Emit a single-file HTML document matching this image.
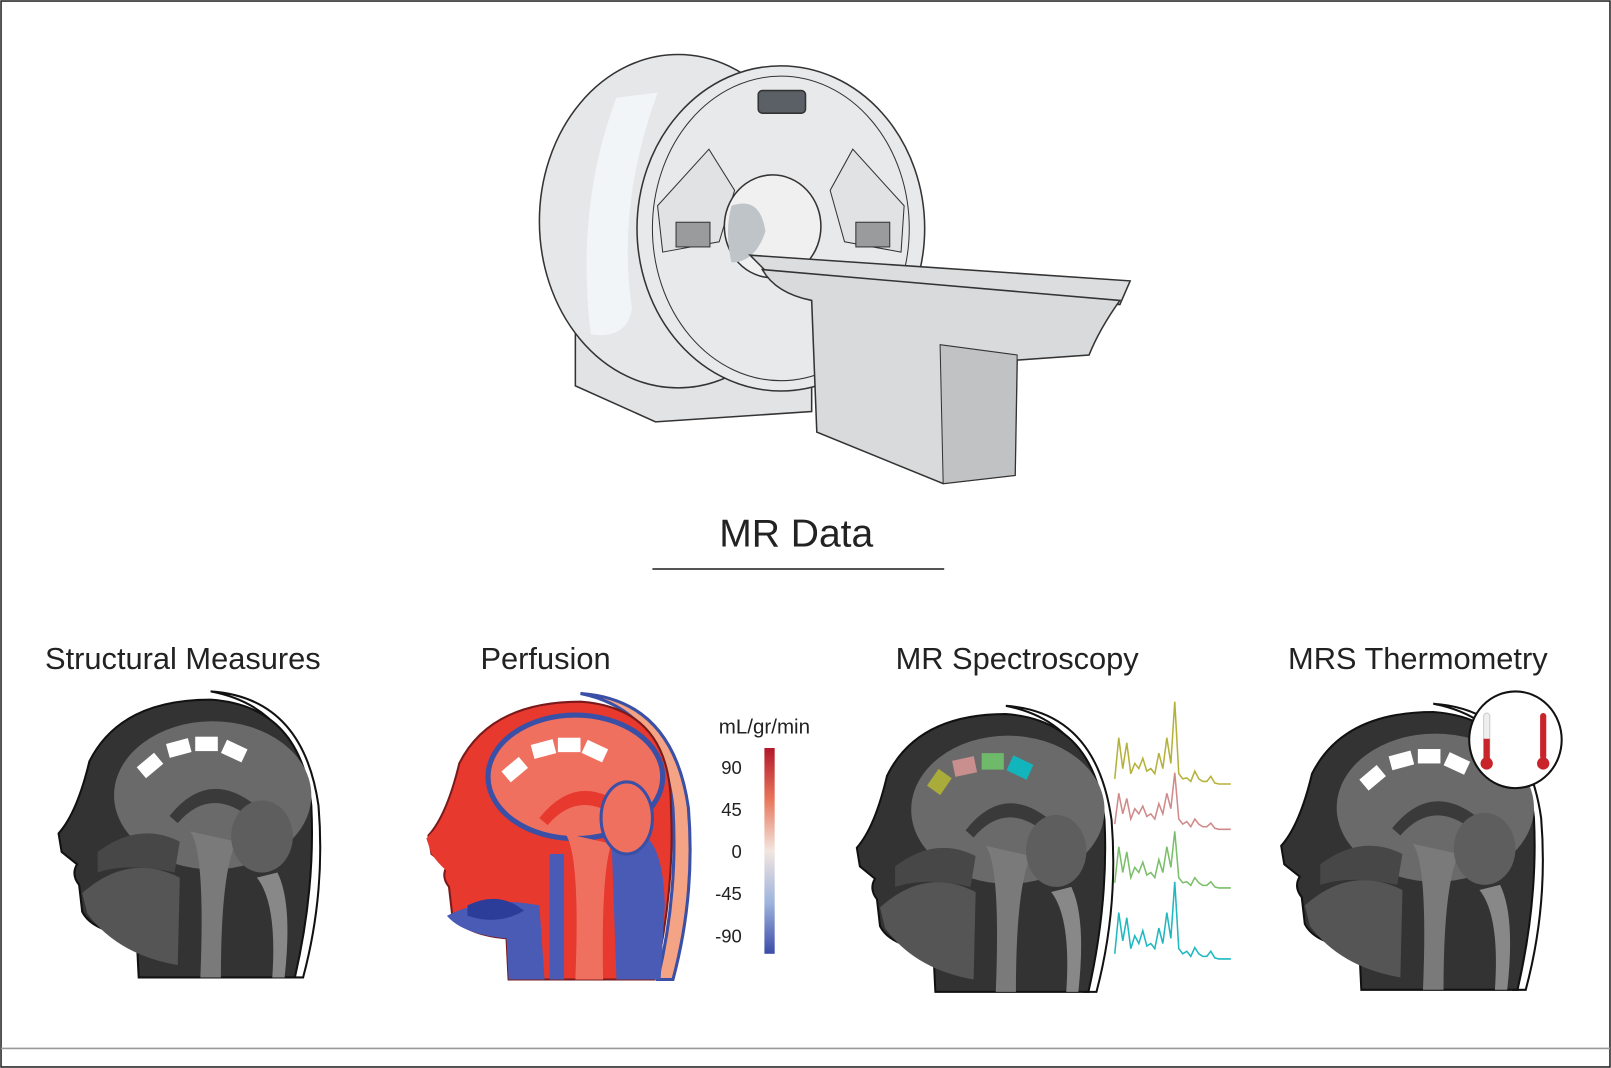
<!DOCTYPE html>
<html><head><meta charset="utf-8"><style>
html,body{margin:0;padding:0;background:#fff;width:1611px;height:1068px;overflow:hidden}
svg{display:block}
text{font-family:"Liberation Sans",sans-serif;fill:#222}
</style></head><body>
<svg id="fig" width="1611" height="1068" viewBox="0 0 1568 1038" preserveAspectRatio="none" xmlns="http://www.w3.org/2000/svg">
<defs>
<linearGradient id="cbar" x1="0" y1="0" x2="0" y2="1">
<stop offset="0" stop-color="#b2182b"/><stop offset="0.25" stop-color="#e8765b"/><stop offset="0.5" stop-color="#f2e6e0"/><stop offset="0.75" stop-color="#9fb4dd"/><stop offset="1" stop-color="#3b4ca8"/>
</linearGradient>
<g id="head">
<path d="M255,105 Q262,190 240,272 L228,272 Q248,190 243,105 Q235,10 150,-6 Q240,0 255,105Z" fill="#fff" stroke="#111" stroke-width="2"/>
<path d="M80,272 L78,232 Q35,228 25,208 L22,182 Q14,172 20,162 L5,150 L2,132 Q20,112 32,62 Q62,2 150,2 Q238,8 248,105 Q252,185 232,272 Z" fill="#333" stroke="#111" stroke-width="2"/>
<ellipse cx="152" cy="95" rx="96" ry="72" fill="#6a6a6a"/>
<path d="M110,115 Q150,65 200,110 L190,118 Q150,85 118,122Z" fill="#3a3a3a"/>
<path d="M130,130 Q145,150 140,272 L160,272 Q160,170 175,140Z" fill="#7a7a7a"/>
<ellipse cx="200" cy="135" rx="30" ry="35" fill="#5e5e5e"/>
<path d="M25,190 Q70,150 120,175 L118,260 Q60,250 30,210Z" fill="#555"/>
<path d="M40,150 Q80,120 120,140 L115,170 Q70,160 40,170Z" fill="#474747"/>
<path d="M195,175 Q215,200 210,272 L222,272 Q230,200 215,170Z" fill="#888"/>
</g>
</defs>
<rect x="1" y="1" width="1566" height="1036" fill="#fff" stroke="#222" stroke-width="1.5"/>
<line x1="1" y1="1019" x2="1567" y2="1019" stroke="#999" stroke-width="1.5"/>

<g stroke="#333" stroke-width="1.5">
<polygon points="560,300 560,375 638,410 790,400 790,320" fill="#e2e3e5"/>
<ellipse cx="660" cy="215" rx="135" ry="162" fill="#e6e7e9"/>
<path d="M600,95 Q560,200 575,325 Q610,330 615,300 Q600,200 640,90Z" fill="#f2f5f7" stroke="none"/>
<ellipse cx="760" cy="222" rx="140" ry="158" fill="#e8e9ea"/>
<ellipse cx="760" cy="222" rx="125" ry="148" fill="none" stroke-width="1"/>
<rect x="738" y="88" width="46" height="22" rx="4" fill="#5b6066"/>
<polygon points="640,200 690,145 715,185 700,235 645,245" fill="#e1e2e4" stroke-width="1"/>
<polygon points="880,200 830,145 808,185 822,235 877,245" fill="#e1e2e4" stroke-width="1"/>
<rect x="658" y="216" width="33" height="24" fill="#9a9b9d" stroke-width="1"/>
<rect x="833" y="216" width="33" height="24" fill="#9a9b9d" stroke-width="1"/>
<ellipse cx="752" cy="220" rx="47" ry="50" fill="#f0f0f0"/>
<path d="M712,200 Q740,190 745,225 Q735,255 712,255 Q705,225 712,200Z" fill="#bfc4c8" stroke="none"/>
<polygon points="730,248 1100,273 1090,296 750,268" fill="#dcdddf"/>
<path d="M742,262 L1090,292 Q1070,320 1060,345 L990,350 L988,462 L918,470 L795,420 L790,292 Q755,285 742,262Z" fill="#d8dadc"/>
<polygon points="915,335 990,345 988,462 918,470" fill="#c0c2c4" stroke-width="1"/>
</g>

<text x="775" y="531" font-size="38" text-anchor="middle">MR Data</text>
<line x1="635" y1="553" x2="919" y2="553" stroke="#555" stroke-width="2"/>

<text x="178" y="650" font-size="30" text-anchor="middle">Structural Measures</text>
<text x="531" y="650" font-size="30" text-anchor="middle">Perfusion</text>
<text x="990" y="650" font-size="30" text-anchor="middle">MR Spectroscopy</text>
<text x="1380" y="650" font-size="30" text-anchor="middle">MRS Thermometry</text>

<g transform="translate(55,678)">
<use href="#head"/>
<g fill="#fff"><rect x="84" y="55" width="14" height="22" transform="rotate(50 91 66)"/><rect x="108" y="42" width="22" height="14" transform="rotate(-15 119 49)"/><rect x="135" y="38" width="22" height="14"/><rect x="162" y="45" width="22" height="14" transform="rotate(25 173 52)"/></g>
</g>

<g transform="translate(415,680)">
<path d="M255,105 Q262,190 240,272 L225,272 Q245,190 240,105 Q230,10 150,-6 Q240,0 255,105Z" fill="#f4a384" stroke="#3a4fa6" stroke-width="3"/>
<path d="M80,272 L78,232 Q35,228 25,208 L22,182 Q14,172 20,162 L5,150 L2,132 Q20,112 32,62 Q62,2 150,2 Q238,8 238,105 Q242,185 222,272 Z" fill="#e8392f" stroke="#7a1a1a" stroke-width="2"/>
<ellipse cx="145" cy="75" rx="85" ry="60" fill="#f07060" stroke="#3a4fa6" stroke-width="5"/>
<path d="M110,115 Q150,65 200,110 L190,118 Q150,85 118,122Z" fill="#e8392f"/>
<path d="M20,210 Q60,190 110,200 L115,272 L80,272 L78,232 Q35,228 20,210Z" fill="#4a5bb5"/>
<path d="M40,200 Q70,185 95,205 Q70,220 40,210Z" fill="#2c3d99"/>
<rect x="120" y="150" width="14" height="122" fill="#4a5bb5"/>
<path d="M135,130 Q150,150 145,272 L172,272 Q170,170 180,140Z" fill="#f07060"/>
<path d="M180,130 Q230,110 232,200 L228,272 L185,272Z" fill="#4a5bb5"/>
<ellipse cx="195" cy="115" rx="25" ry="35" fill="#f07060" stroke="#3a4fa6" stroke-width="3"/>
<path d="M0,135 Q20,110 60,110 Q90,140 70,185 Q30,185 5,150Z" fill="#e8392f"/>
<g fill="#fff"><rect x="79" y="57" width="14" height="22" transform="rotate(50 86 68)"/><rect x="103" y="41" width="22" height="14" transform="rotate(-15 114 48)"/><rect x="128" y="37" width="22" height="14"/><rect x="153" y="43" width="22" height="14" transform="rotate(25 164 50)"/></g>
</g>

<g id="colorbar">
<text x="744" y="713" font-size="20" text-anchor="middle">mL/gr/min</text>
<rect x="744" y="727" width="10" height="200" fill="url(#cbar)"/>
</g>

<g transform="translate(832,692) scale(0.98,1.0)">
<use href="#head"/>
<rect x="76" y="58" width="16" height="20" fill="#a9ab3a" transform="rotate(35 84 68)"/>
<rect x="98" y="45" width="22" height="16" fill="#c98e8e" transform="rotate(-12 109 53)"/>
<rect x="126" y="40" width="22" height="16" fill="#6fba6a"/>
<rect x="153" y="46" width="22" height="16" fill="#13b5bd" transform="rotate(25 164 54)"/>
</g>
<g id="spectra"></g>

<g transform="translate(1245,690)">
<use href="#head"/>
<g fill="#fff"><rect x="84" y="55" width="14" height="22" transform="rotate(50 91 66)"/><rect x="108" y="42" width="22" height="14" transform="rotate(-15 119 49)"/><rect x="135" y="38" width="22" height="14"/><rect x="162" y="45" width="22" height="14" transform="rotate(25 173 52)"/></g>
</g>
<g>
<ellipse cx="1475" cy="719" rx="45" ry="47" fill="#fff" stroke="#111" stroke-width="2"/>
<rect x="1444" y="693" width="6" height="45" rx="3" fill="#eee" stroke="#ccc"/>
<rect x="1444" y="718" width="6" height="22" fill="#c9242a"/>
<circle cx="1447" cy="742" r="6" fill="#c9242a"/>
<rect x="1499" y="693" width="6" height="45" rx="3" fill="#c9242a"/>
<circle cx="1502" cy="742" r="6" fill="#c9242a"/>
</g>
</svg>
<script>
// colorbar ticks
const cbTicks = [90, 45, 0, -45, -90];
const cbMin = -110, cbMax = 110;
// spectra data (relative heights, 0..1)
const specNames = ['voxel-1','voxel-2','voxel-3','voxel-4'];
const specColors = ['#b5b23a','#d08a8a','#7bbf6a','#1fb8c0'];
const specPpm = [0,1,2,3,4,5,6,7,8,9,10,11,12,13,14,15,16,17,18,19,20,21,22,23,24,25,26,27,28,29];
const spec1 = [0.1,0.9,0.3,0.8,0.2,0.4,0.3,0.5,0.25,0.3,0.2,0.6,0.3,0.9,0.4,1.6,0.2,0.1,0.12,0.05,0.25,0.1,0.05,0.05,0.15,0.02,0.0,0.0,0.0,0.0];
const spec2 = [0.1,0.7,0.3,0.6,0.2,0.4,0.3,0.45,0.25,0.3,0.2,0.5,0.3,0.7,0.4,1.1,0.2,0.1,0.15,0.05,0.2,0.1,0.05,0.05,0.12,0.02,0.0,0.0,0.0,0.0];
const spec3 = [0.1,0.8,0.3,0.7,0.2,0.4,0.3,0.5,0.25,0.3,0.2,0.55,0.3,0.8,0.4,1.1,0.2,0.1,0.12,0.05,0.2,0.1,0.05,0.05,0.12,0.02,0.0,0.0,0.0,0.0];
const spec4 = [0.1,0.9,0.35,0.8,0.2,0.45,0.3,0.55,0.25,0.3,0.2,0.6,0.3,0.9,0.4,1.5,0.2,0.1,0.15,0.05,0.22,0.1,0.05,0.05,0.15,0.02,0.0,0.0,0.0,0.0];
const specSeries = [spec1, spec2, spec3, spec4];
const specBase = [762, 806, 863, 932];

const NS='http://www.w3.org/2000/svg';
const cb=document.getElementById('colorbar');
const cbY=v=>727+(cbMax-v)/(cbMax-cbMin)*200;
cbTicks.forEach(t=>{
  const tx=document.createElementNS(NS,'text');
  tx.setAttribute('x',722);tx.setAttribute('y',cbY(t)+7);
  tx.setAttribute('font-size','18');tx.setAttribute('text-anchor','end');
  tx.textContent=t;
  
  
  cb.appendChild(tx);
});
const sg=document.getElementById('spectra');
const sx=i=>1085+i/(specPpm.length-1)*113;
specSeries.forEach((s,k)=>{
  let d='';
  s.forEach((v,i)=>{d+=(i?'L':'M')+sx(specPpm[i]).toFixed(1)+','+(specBase[k]-v*50).toFixed(1);});
  const p=document.createElementNS(NS,'path');
  p.setAttribute('d',d);p.setAttribute('fill','none');
  p.setAttribute('stroke',specColors[k]);p.setAttribute('stroke-width','1.5');
  
  
  sg.appendChild(p);
});
</script>
</body></html>
